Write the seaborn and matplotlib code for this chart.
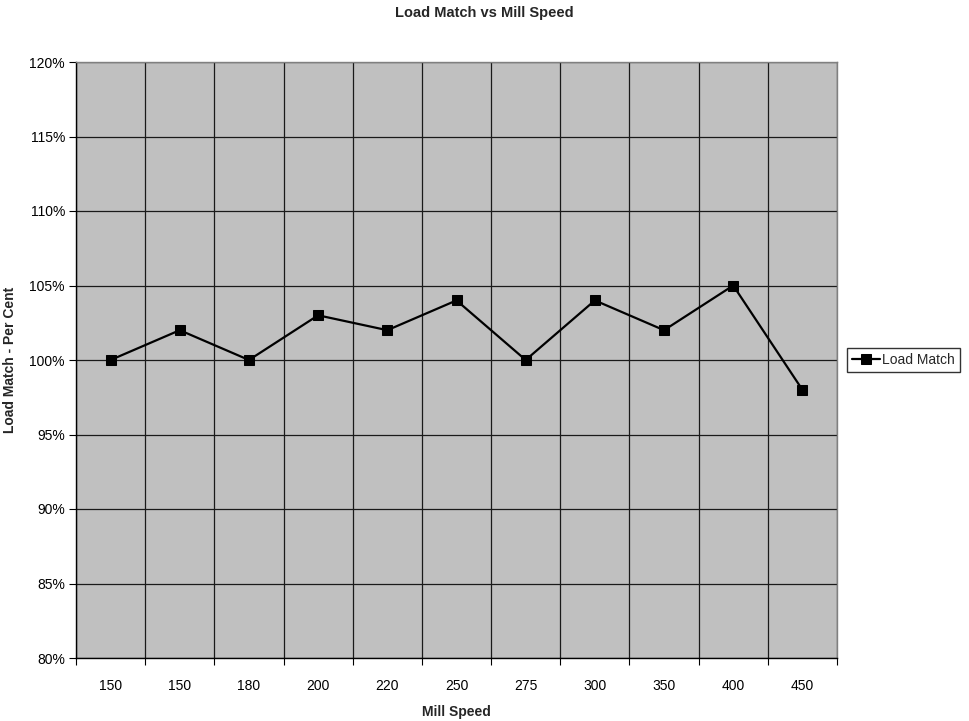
import matplotlib
matplotlib.use("Agg")
import matplotlib.pyplot as plt
import seaborn as sns
import pandas as pd
import numpy as np
from matplotlib.ticker import FixedLocator, MultipleLocator, FuncFormatter

categories = ["150", "150", "180", "200", "220", "250", "275", "300", "350", "400", "450"]
load_match = [100, 102, 100, 103, 102, 104, 100, 104, 102, 105, 98]

sns.set_theme(style="white")
plt.rcParams['font.family'] = ['Liberation Sans', 'DejaVu Sans']

df = pd.DataFrame({"pos": np.arange(len(categories)), "value": load_match})

fig = plt.figure(figsize=(9.69, 7.21), dpi=100)
ax = fig.add_axes([76/969, 1-658/721, (837-76)/969, (658-62)/721])
ax.set_facecolor("#C0C0C0")

sns.lineplot(data=df, x="pos", y="value", ax=ax, color="black", linewidth=1.6,
             marker="s", markersize=7.5, markeredgecolor="black", markerfacecolor="black",
             label="Load Match", legend=False)

ax.set_xlim(-0.5, len(categories) - 0.5)
ax.set_ylim(80, 120)
ax.yaxis.set_major_locator(MultipleLocator(5))
ax.yaxis.set_major_formatter(FuncFormatter(lambda v, p: f"{int(round(v))}%"))
ax.set_xticks(np.arange(len(categories)))
ax.set_xticklabels(categories)
ax.xaxis.set_minor_locator(FixedLocator(np.arange(-0.5, len(categories), 1.0)))

ax.grid(True, axis="y", which="major", color="#1a1a1a", linewidth=0.9)
ax.grid(True, axis="x", which="minor", color="#1a1a1a", linewidth=0.9)
ax.grid(False, axis="x", which="major")
ax.set_axisbelow(True)

ax.tick_params(axis="x", which="major", length=0, labelsize=10, pad=15, colors="black")
ax.tick_params(axis="x", which="minor", length=5, width=0.8, direction="out", bottom=True, color="black")
ax.tick_params(axis="y", which="major", length=5, width=0.8, direction="out", left=True, labelsize=10, pad=3, colors="black")

for s in ["left", "bottom"]:
    ax.spines[s].set_color("black")
    ax.spines[s].set_linewidth(1.0)
for s in ["top", "right"]:
    ax.spines[s].set_color("#808080")
    ax.spines[s].set_linewidth(1.0)

ax.set_xlabel("Mill Speed", fontsize=10, fontweight="bold", labelpad=9)
ax.set_ylabel("Load Match - Per Cent", fontsize=10, fontweight="bold", labelpad=9)
fig.text(0.5, 1-13/721, "Load Match vs Mill Speed", ha="center", va="center",
         fontsize=10.5, fontweight="bold")

handles, labels = ax.get_legend_handles_labels()
leg = fig.legend(handles, labels, loc="center left", bbox_to_anchor=(847/969, 1-360/721),
                 frameon=True, fancybox=False, fontsize=10, handlelength=2.0,
                 handletextpad=0.2, borderpad=0.35, borderaxespad=0)
leg.get_frame().set_edgecolor("black")
leg.get_frame().set_linewidth(1.0)

fig.savefig("out.png", dpi=100, facecolor="white")
